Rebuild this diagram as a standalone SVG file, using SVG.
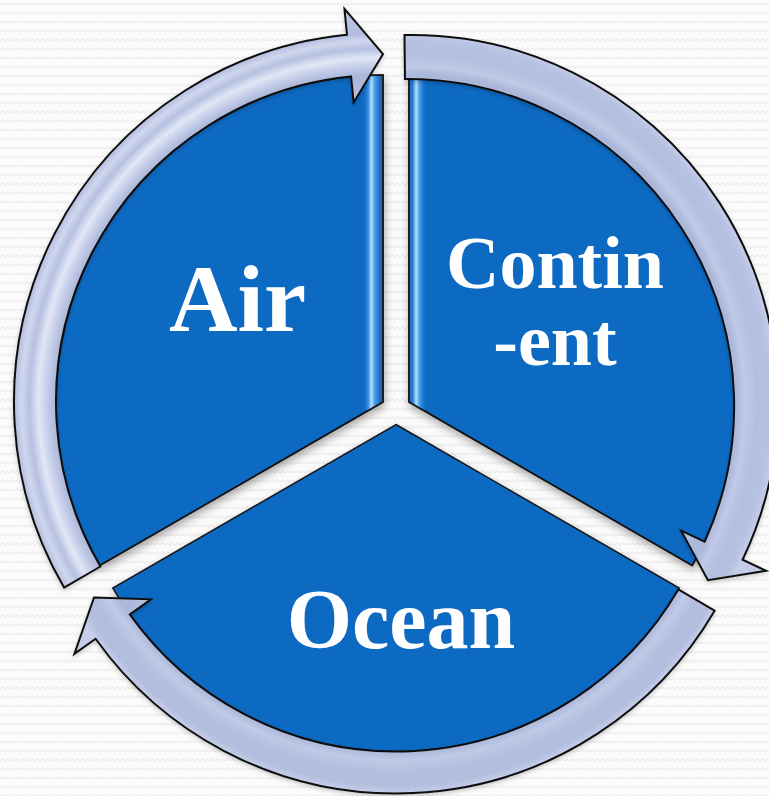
<svg xmlns="http://www.w3.org/2000/svg" width="769" height="796" viewBox="0 0 769 796">
  <defs>
    <pattern id="bgp" width="10" height="9" patternUnits="userSpaceOnUse">
      <rect width="10" height="9" fill="#fbfbfb"/>
      <path d="M0 5 L2.5 3 L5 5 L7.5 3 L10 5" fill="none" stroke="#ececec" stroke-width="1.2"/>
    </pattern>
    <filter id="shadow" x="-10%" y="-10%" width="120%" height="120%">
      <feDropShadow dx="1" dy="4" stdDeviation="4" flood-color="#000" flood-opacity="0.35"/>
    </filter>
    <filter id="ashadow" x="-10%" y="-10%" width="120%" height="120%">
      <feDropShadow dx="0" dy="2" stdDeviation="2" flood-color="#000" flood-opacity="0.2"/>
    </filter>
    <radialGradient id="gAir" gradientUnits="userSpaceOnUse" cx="383" cy="402" r="395">
      <stop offset="0.76" stop-color="#b8c2e2"/>
      <stop offset="0.828" stop-color="#aab6da"/>
      <stop offset="0.85" stop-color="#c3cce8"/>
      <stop offset="0.872" stop-color="#e2e7f6"/>
      <stop offset="0.895" stop-color="#b6c1e1"/>
      <stop offset="0.915" stop-color="#d0d7ee"/>
      <stop offset="0.934" stop-color="#b2bcde"/>
      <stop offset="1" stop-color="#c0c9e6"/>
    </radialGradient>
    <radialGradient id="gCon" gradientUnits="userSpaceOnUse" cx="409" cy="402" r="395">
      <stop offset="0.76" stop-color="#b8c2e2"/>
      <stop offset="0.828" stop-color="#aab6da"/>
      <stop offset="0.85" stop-color="#c0c9e6"/>
      <stop offset="0.88" stop-color="#b3bedf"/>
      <stop offset="0.915" stop-color="#b7c1e1"/>
      <stop offset="0.934" stop-color="#c6cee9"/>
      <stop offset="1" stop-color="#c0c9e6"/>
    </radialGradient>
    <radialGradient id="gOce" gradientUnits="userSpaceOnUse" cx="396" cy="424.5" r="395">
      <stop offset="0.76" stop-color="#b8c2e2"/>
      <stop offset="0.828" stop-color="#aab6da"/>
      <stop offset="0.85" stop-color="#c0c9e6"/>
      <stop offset="0.88" stop-color="#b3bedf"/>
      <stop offset="0.915" stop-color="#b3bedf"/>
      <stop offset="0.934" stop-color="#c6cee9"/>
      <stop offset="1" stop-color="#c0c9e6"/>
    </radialGradient>
    <linearGradient id="edgeL" x1="0" y1="0" x2="1" y2="0">
      <stop offset="0" stop-color="#106bc3" stop-opacity="0"/>
      <stop offset="0.3" stop-color="#3b8fe2"/>
      <stop offset="0.45" stop-color="#b0e0ff"/>
      <stop offset="0.6" stop-color="#4aa0ee"/>
      <stop offset="0.85" stop-color="#1e6cc0"/>
      <stop offset="1" stop-color="#3d5470"/>
    </linearGradient>
    <linearGradient id="edgeR" x1="0" y1="0" x2="1" y2="0">
      <stop offset="0" stop-color="#1e6cc0"/>
      <stop offset="0.2" stop-color="#2a7ad0"/>
      <stop offset="0.4" stop-color="#b0e0ff"/>
      <stop offset="0.58" stop-color="#4aa0ee"/>
      <stop offset="1" stop-color="#106bc3" stop-opacity="0"/>
    </linearGradient>
    <clipPath id="clipAir"><path d="M383 402 L99.81 565.5 A327 327 0 0 1 383 75 Z"/></clipPath>
    <clipPath id="clipCon"><path d="M409 402 L409 75 A327 327 0 0 1 692.19 565.5 Z"/></clipPath>
    <style>
      .seg { fill: #106bc3; stroke: #151515; stroke-width: 1.5; }
      .arrow { stroke: #111; stroke-width: 2; stroke-linejoin: miter; }
      .lbl { font-family: "Liberation Serif", "Times New Roman", serif; font-weight: bold; fill: #ffffff; text-anchor: middle; }
    </style>
  </defs>

  <rect width="769" height="796" fill="url(#bgp)"/>

  <g id="node-air">
    <path class="seg" filter="url(#shadow)" d="M383 402 L99.81 565.5 A327 327 0 0 1 383 75 Z"/>
    <rect x="362" y="70" width="21" height="340" fill="url(#edgeL)" clip-path="url(#clipAir)"/>
    <path d="M383 402 L99.81 565.5 A327 327 0 0 1 383 75 Z" fill="none" stroke="#151515" stroke-width="1.5"/>
    <text class="lbl" x="237.5" y="331" font-size="95">Air</text>
  </g>

  <g id="node-continent">
    <path class="seg" filter="url(#shadow)" d="M409 402 L409 75 A327 327 0 0 1 692.19 565.5 Z"/>
    <rect x="409" y="70" width="18" height="340" fill="url(#edgeR)" clip-path="url(#clipCon)"/>
    <path d="M409 402 L409 75 A327 327 0 0 1 692.19 565.5 Z" fill="none" stroke="#151515" stroke-width="1.5"/>
    <text class="lbl" x="555" y="288" font-size="74">Contin</text>
    <text class="lbl" x="555" y="365" font-size="74">-ent</text>
  </g>

  <g id="node-ocean">
    <path class="seg" filter="url(#shadow)" d="M396 424.5 L679.19 588 A327 327 0 0 1 112.81 588 Z"/>
    <text class="lbl" x="401" y="648" font-size="84">Ocean</text>
  </g>

  <g id="connectors" filter="url(#ashadow)">
    <path class="arrow" fill="url(#gAir)" d="M64.08 587.61 A369 369 0 0 1 346.99 34.76 L344.46 8.88 L383 54 L353.63 102.44 L351.09 76.56 A327 327 0 0 0 100.38 566.49 Z"/>
    <path class="arrow" fill="url(#gCon)" d="M404.49 35.03 A367 367 0 0 1 742.61 559.70 L766.11 570.81 L707.92 580.19 L681.13 530.64 L704.63 541.75 A327 327 0 0 0 405.01 79.02 Z"/>
    <path class="arrow" fill="url(#gOce)" d="M714.59 610.67 A369 369 0 0 1 95.59 638.78 L74.42 653.88 L94.02 597.45 L150.95 599.29 L129.78 614.39 A327 327 0 0 0 678.33 589.48 Z"/>
  </g>
</svg>
